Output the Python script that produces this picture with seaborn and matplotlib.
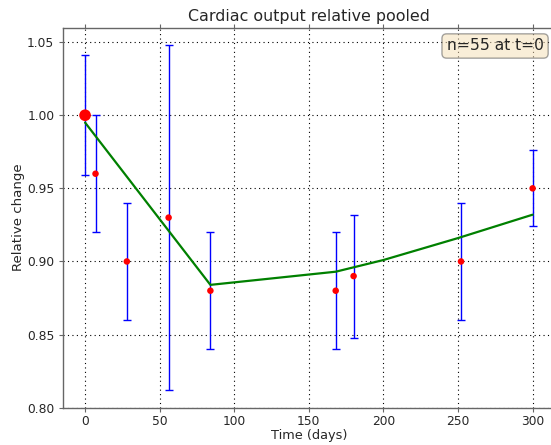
import matplotlib
matplotlib.use("Agg")
import matplotlib.pyplot as plt
import seaborn as sns
import pandas as pd

# data
days = [0, 7, 28, 56, 84, 168, 180, 252, 300]
rel_change = [1.00, 0.96, 0.90, 0.93, 0.88, 0.88, 0.89, 0.90, 0.95]
err = [0.041, 0.040, 0.040, 0.118, 0.040, 0.040, 0.042, 0.040, 0.026]
fit_days = [0, 84, 168, 180, 200, 250, 300]
fit_vals = [0.995, 0.884, 0.893, 0.896, 0.901, 0.916, 0.932]
xticks = [0, 50, 100, 150, 200, 250, 300]
yticks = [0.80, 0.85, 0.90, 0.95, 1.00, 1.05]

sns.set_style("ticks")
plt.rcParams['font.family'] = ['DejaVu Sans']

fig = plt.figure(figsize=(5.51, 4.45), dpi=100)
ax = fig.add_axes([62.7 / 551, 1 - 407.7 / 445, (555 - 62.7) / 551, (407.7 - 27.5) / 445])

df = pd.DataFrame({"day": days, "val": rel_change, "err": err})
fit = pd.DataFrame({"day": fit_days, "val": fit_vals})

ax.errorbar(df["day"], df["val"], yerr=df["err"], fmt="none", ecolor="blue",
            elinewidth=1.0, capsize=3, capthick=1.0, zorder=3)
sns.lineplot(data=fit, x="day", y="val", color="green", linewidth=1.6, ax=ax, zorder=4)
sns.scatterplot(data=df.iloc[1:], x="day", y="val", color="red", s=22, edgecolor="none", ax=ax, zorder=5)
sns.scatterplot(data=df.iloc[:1], x="day", y="val", color="red", s=70, edgecolor="none", ax=ax, zorder=5)

ax.set_xlim(-15, 315)
ax.set_ylim(0.80, 1.06)
ax.set_xticks(xticks)
ax.set_yticks(yticks)
ax.set_yticklabels([f"{v:.2f}" for v in yticks])
ax.grid(True, linestyle=(0, (1, 3)), color="black", linewidth=0.8)
ax.tick_params(direction="out", top=True, right=True, length=3, width=0.8,
               labelsize=8.8, color="0.4", pad=3)
ax.tick_params(axis="x", pad=2)
for s in ax.spines.values():
    s.set_color("0.4")
    s.set_linewidth(1.0)

ax.set_xlabel("Time (days)", fontsize=9.3, labelpad=1)
ax.set_ylabel("Relative change", fontsize=9.6, labelpad=1.5)
ax.set_title("Cardiac output relative pooled", fontsize=11.4, pad=5)

fig.text(543.5 / 551, 1 - 38.5 / 445, "n=55 at t=0", fontsize=11.2, ha="right", va="top",
         bbox=dict(boxstyle="round,pad=0.3", facecolor="wheat", alpha=0.5, edgecolor="0.3"))

fig.savefig("out.png", dpi=100)
